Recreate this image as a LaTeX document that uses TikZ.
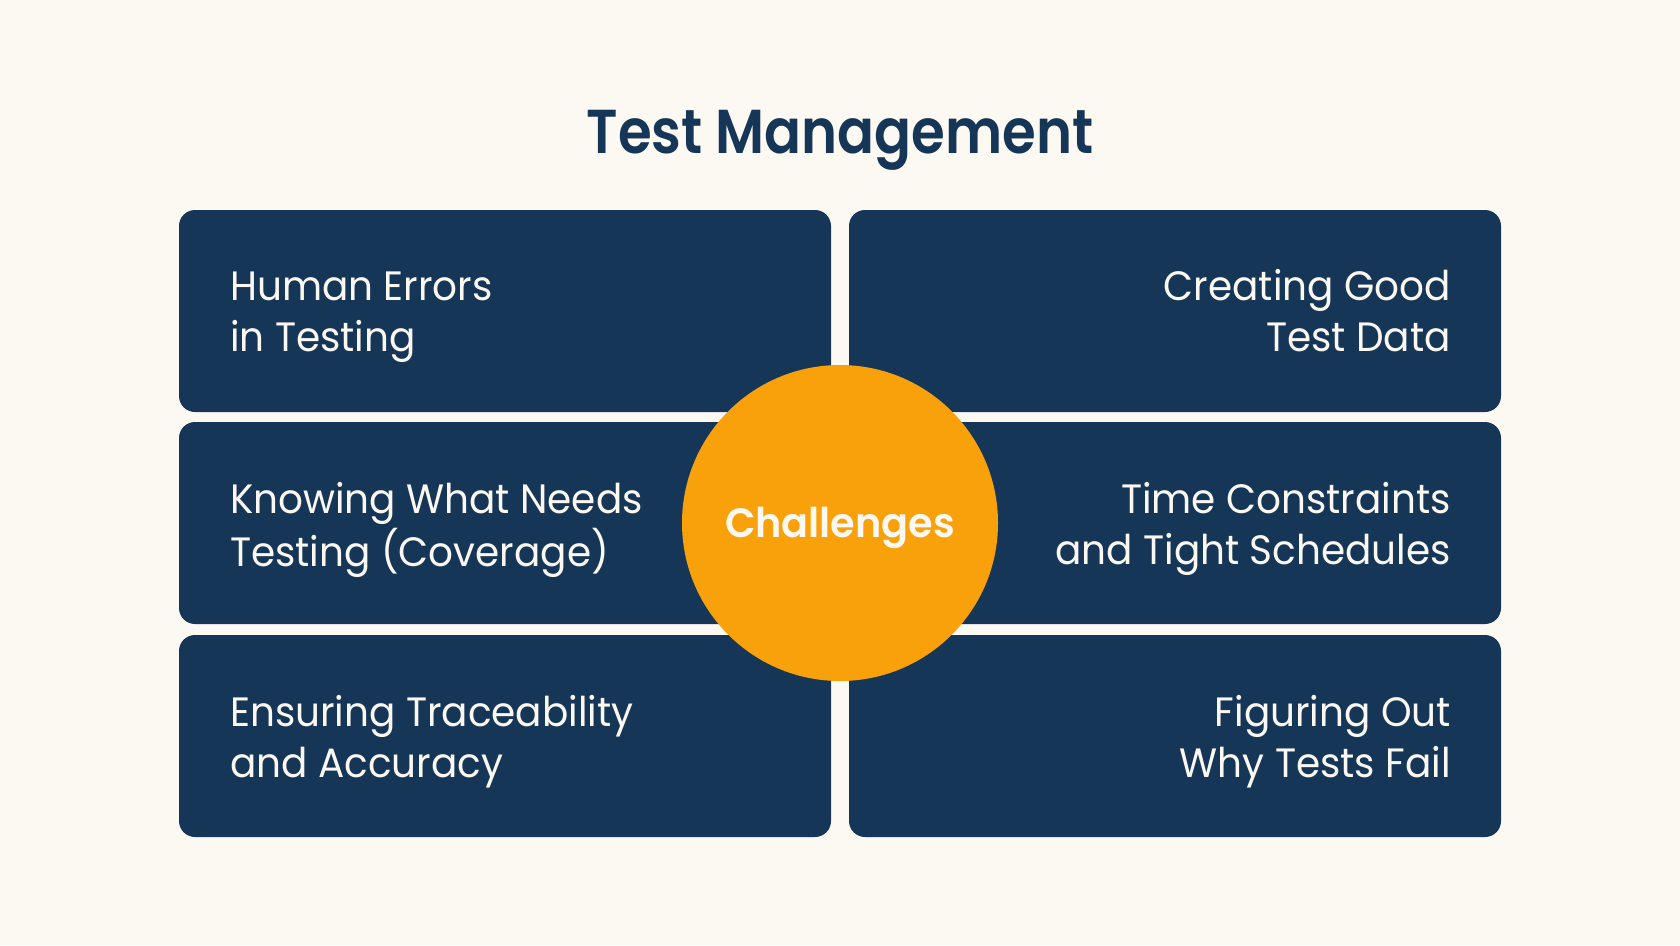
\documentclass[tikz,border=0pt]{standalone}
\usepackage{fontspec}
\setmainfont{Poppins}[FakeStretch=0.95]
\newfontfamily\semibd{Poppins SemiBold}[FakeStretch=0.88]
\newfontfamily\hubfont{Poppins SemiBold}[FakeStretch=0.97]
\definecolor{bg}{HTML}{FCF9F3}
\definecolor{navy}{HTML}{163657}
\definecolor{amber}{HTML}{F9A10B}
\definecolor{cream}{HTML}{FBF8F2}
\newcommand{\cardtextL}[2]{\begin{tabular}[t]{@{}l@{}}#1\\#2\end{tabular}}
\newcommand{\cardtextR}[2]{\begin{tabular}[t]{@{}r@{}}#1\\#2\end{tabular}}
\begin{document}
\begin{tikzpicture}[x=1pt,y=-1pt,
  card/.style={fill=navy, draw=none, rounded corners=16pt, minimum width=652pt, minimum height=202pt, inner sep=0pt},
  cardtxt/.style={inner sep=0pt, text=cream, font=\fontsize{41}{51}\selectfont},
  hub/.style={circle, fill=amber, draw=none, minimum size=316pt, inner sep=0pt},
  hubtxt/.style={inner sep=0pt, text=cream, font=\hubfont\fontsize{41}{48}\selectfont},
  titletxt/.style={inner sep=0pt, text=navy, font=\semibd\fontsize{62}{72}\selectfont}]
\useasboundingbox[fill=bg] (0,0) rectangle (1680,945);
\node[titletxt, anchor=base] (title) at (840,153) {Test Management};
\node[card] (c1) at (505,311) {};
\node[card] (c2) at (1175,311) {};
\node[card] (c3) at (505,523) {};
\node[card] (c4) at (1175,523) {};
\node[card] (c5) at (505,736) {};
\node[card] (c6) at (1175,736) {};
\node[cardtxt, anchor=base west] (t1) at (230,300) {\cardtextL{Human Errors}{in Testing}};
\node[cardtxt, anchor=base east] (t2) at (1451,300) {\cardtextR{Creating Good}{Test Data}};
\node[cardtxt, anchor=base west] (t3) at (230,513) {\cardtextL{Knowing What Needs}{Testing (Coverage)}};
\node[cardtxt, anchor=base east] (t4) at (1451,513) {\cardtextR{Time Constraints}{and Tight Schedules}};
\node[cardtxt, anchor=base west] (t5) at (230,726) {\cardtextL{Ensuring Traceability}{and Accuracy}};
\node[cardtxt, anchor=base east] (t6) at (1451,726) {\cardtextR{Figuring Out}{Why Tests Fail}};
\node[hub] (hub) at (840,523) {};
\node[hubtxt, anchor=base] (hubl) at (840,537) {Challenges};
\end{tikzpicture}
\end{document}
